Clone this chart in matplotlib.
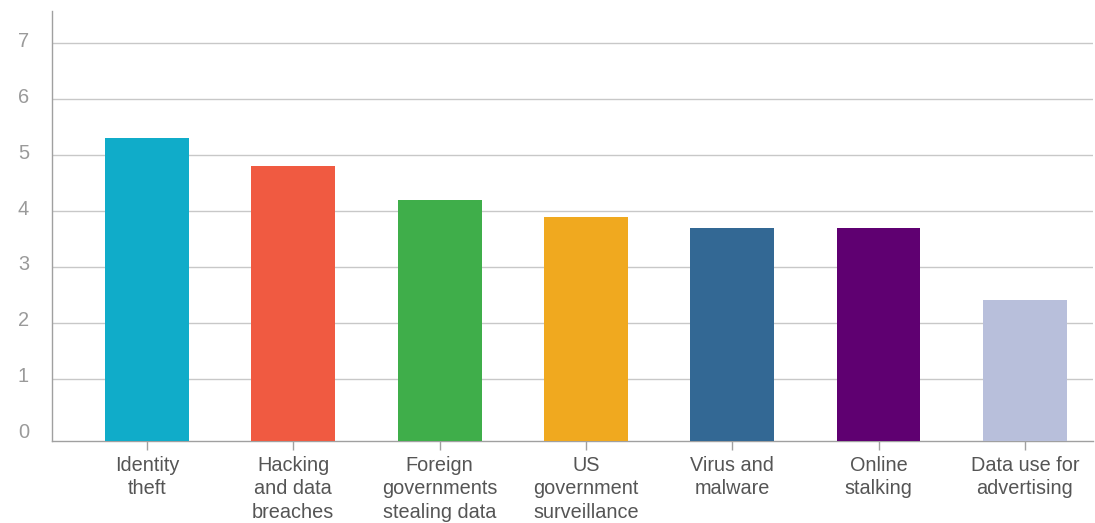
import matplotlib
matplotlib.use("Agg")
import matplotlib.pyplot as plt
from matplotlib.transforms import ScaledTranslation

categories = ["Identity\ntheft", "Hacking\nand data\nbreaches", "Foreign\ngovernments\nstealing data",
              "US\ngovernment\nsurveillance", "Virus and\nmalware", "Online\nstalking",
              "Data use for\nadvertising"]
values = [5.3, 4.8, 4.2, 3.9, 3.7, 3.7, 2.4]
colors = ["#10acc9", "#f05a41", "#3fae4a", "#f0a91f", "#336894", "#5f0071", "#b8bfdb"]
yticks = [0, 1, 2, 3, 4, 5, 6, 7]

W, H = 1095, 523
fig = plt.figure(figsize=(W / 100, H / 100), dpi=100)
ax = fig.add_axes([52 / W, (H - 441) / H, (1093 - 52) / W, (441 - 11) / H])

ymin, ymax = -0.116, 7.58
x = list(range(len(categories)))
ax.bar(x, [v - ymin for v in values], bottom=ymin, width=0.574, color=colors, zorder=3)

ax.set_xlim(-0.649, 6.466)
ax.set_ylim(ymin, ymax)
ax.set_yticks(yticks)
ax.set_yticklabels([str(t) for t in yticks])
for t in yticks[1:]:
    ax.axhline(t, color="#c8c8c8", lw=1.0, zorder=1)

ax.set_xticks(x)
ax.set_xticklabels(categories)

for s in ["top", "right"]:
    ax.spines[s].set_visible(False)
ax.spines["left"].set_color("#a0a0a0")
ax.spines["bottom"].set_color("#a0a0a0")
ax.spines["left"].set_linewidth(1.0)
ax.spines["bottom"].set_linewidth(1.0)

font = ["Liberation Sans", "DejaVu Sans"]
ax.tick_params(axis="y", length=0, pad=16.5, labelsize=14.4, labelcolor="#9a9a9a")
ax.tick_params(axis="x", length=6.5, width=1, color="#a0a0a0", pad=4, labelsize=14.3, labelcolor="#555555")
for lab in ax.get_yticklabels():
    lab.set_family(font)
    lab.set_transform(lab.get_transform() + ScaledTranslation(0, 4 / 100, fig.dpi_scale_trans))
for lab in ax.get_xticklabels():
    lab.set_family(font)
    lab.set_linespacing(1.3)

fig.savefig("out.png", dpi=100)
